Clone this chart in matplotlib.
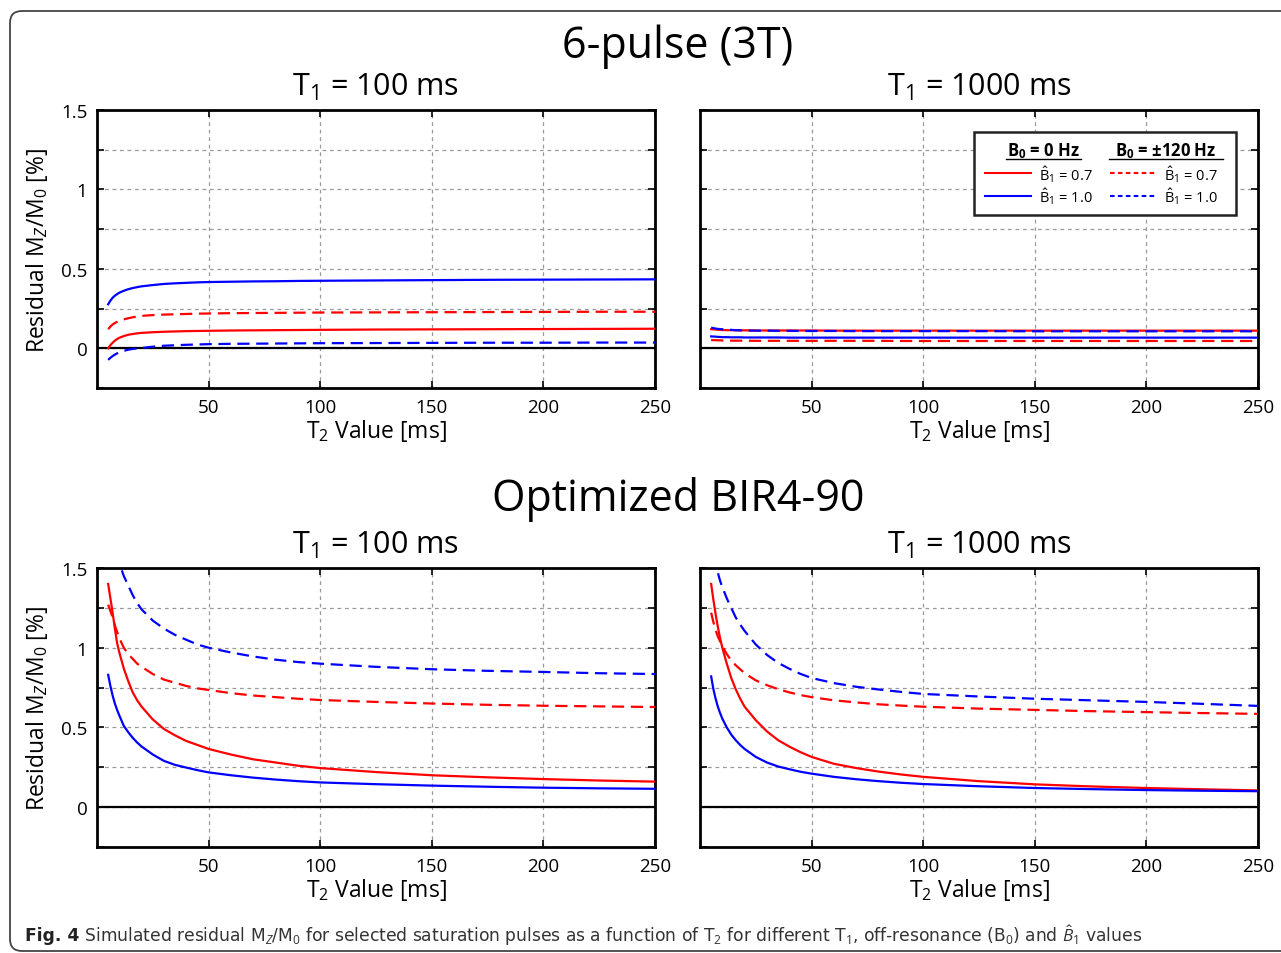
import numpy as np
import matplotlib
matplotlib.use("Agg")
import matplotlib.pyplot as plt
from matplotlib.patches import FancyBboxPatch, Rectangle
from matplotlib.lines import Line2D
from matplotlib.ticker import FixedLocator, FixedFormatter
from matplotlib.transforms import IdentityTransform

plt.rcParams['font.family'] = ['Open Sans', 'DejaVu Sans']
plt.rcParams['mathtext.fontset'] = 'custom'
plt.rcParams['mathtext.rm'] = 'Open Sans'
plt.rcParams['mathtext.it'] = 'Open Sans:italic'
plt.rcParams['mathtext.bf'] = 'Open Sans:bold'

# T2 sample points [ms]
t2 = [5, 6, 7, 8, 9, 10, 12, 14, 16, 18, 20, 25, 30, 35, 40, 45, 50,
      60, 70, 80, 90, 100, 125, 150, 175, 200, 225, 250]

# 6-pulse (3T), T1 = 100 ms
p6_t100_b07_on = [0.000, 0.020, 0.035, 0.048, 0.058, 0.066, 0.077, 0.085, 0.090, 0.094, 0.097,
                  0.101, 0.104, 0.106, 0.108, 0.109, 0.110, 0.112, 0.113, 0.114, 0.115, 0.116,
                  0.118, 0.119, 0.120, 0.121, 0.122, 0.123]
p6_t100_b10_on = [0.277, 0.300, 0.318, 0.331, 0.341, 0.350, 0.362, 0.372, 0.379, 0.385, 0.390,
                  0.398, 0.405, 0.409, 0.412, 0.415, 0.417, 0.419, 0.421, 0.422, 0.424, 0.425,
                  0.427, 0.429, 0.431, 0.432, 0.433, 0.434]
p6_t100_b07_off = [0.120, 0.137, 0.150, 0.159, 0.167, 0.173, 0.182, 0.189, 0.195, 0.200, 0.204,
                   0.209, 0.212, 0.214, 0.216, 0.218, 0.219, 0.221, 0.222, 0.223, 0.224, 0.225,
                   0.226, 0.227, 0.228, 0.229, 0.230, 0.230]
p6_t100_b10_off = [-0.073, -0.060, -0.049, -0.040, -0.032, -0.025, -0.016, -0.009, -0.004, -0.001,
                   0.002, 0.010, 0.016, 0.019, 0.022, 0.024, 0.026, 0.028, 0.029, 0.030, 0.031,
                   0.032, 0.033, 0.034, 0.035, 0.035, 0.036, 0.036]

# 6-pulse (3T), T1 = 1000 ms
p6_t1000_b07_on = [0.120, 0.119, 0.118, 0.117, 0.116, 0.115, 0.114, 0.114, 0.113, 0.113, 0.113,
                   0.112, 0.112, 0.112, 0.112, 0.112, 0.112, 0.111, 0.111, 0.111, 0.111, 0.111,
                   0.111, 0.111, 0.111, 0.111, 0.111, 0.111]
p6_t1000_b10_on = [0.075, 0.074, 0.073, 0.072, 0.071, 0.070, 0.070, 0.069, 0.069, 0.069, 0.068,
                   0.068, 0.068, 0.068, 0.067, 0.067, 0.067, 0.067, 0.067, 0.067, 0.067, 0.067,
                   0.067, 0.067, 0.067, 0.067, 0.067, 0.067]
p6_t1000_b07_off = [0.052, 0.051, 0.051, 0.050, 0.050, 0.049, 0.049, 0.048, 0.048, 0.048, 0.048,
                    0.047, 0.047, 0.047, 0.047, 0.047, 0.047, 0.047, 0.047, 0.047, 0.046, 0.046,
                    0.046, 0.046, 0.046, 0.046, 0.046, 0.046]
p6_t1000_b10_off = [0.130, 0.127, 0.124, 0.122, 0.121, 0.120, 0.118, 0.116, 0.114, 0.113, 0.112,
                    0.111, 0.111, 0.110, 0.110, 0.109, 0.109, 0.109, 0.108, 0.108, 0.108, 0.108,
                    0.108, 0.107, 0.107, 0.107, 0.107, 0.107]

# Optimized BIR4-90, T1 = 100 ms
bir_t100_b07_on = [1.40, 1.31, 1.22, 1.12, 1.03, 0.97, 0.87, 0.79, 0.72, 0.67, 0.63,
                   0.55, 0.49, 0.45, 0.415, 0.39, 0.365, 0.33, 0.30, 0.28, 0.26, 0.245,
                   0.22, 0.20, 0.187, 0.176, 0.167, 0.160]
bir_t100_b10_on = [0.83, 0.76, 0.70, 0.65, 0.61, 0.575, 0.51, 0.47, 0.435, 0.405, 0.38,
                   0.33, 0.29, 0.265, 0.248, 0.232, 0.218, 0.20, 0.185, 0.173, 0.163, 0.155,
                   0.144, 0.135, 0.128, 0.122, 0.118, 0.115]
bir_t100_b07_off = [1.27, 1.23, 1.19, 1.14, 1.10, 1.06, 1.00, 0.96, 0.93, 0.90, 0.88,
                    0.835, 0.80, 0.78, 0.76, 0.745, 0.735, 0.715, 0.70, 0.69, 0.68, 0.672,
                    0.66, 0.65, 0.642, 0.636, 0.632, 0.628]
bir_t100_b10_off = [1.95, 1.83, 1.73, 1.65, 1.58, 1.53, 1.45, 1.39, 1.33, 1.28, 1.24,
                    1.17, 1.12, 1.08, 1.05, 1.02, 1.00, 0.97, 0.945, 0.925, 0.91, 0.90,
                    0.88, 0.865, 0.855, 0.848, 0.84, 0.835]

# Optimized BIR4-90, T1 = 1000 ms
bir_t1000_b07_on = [1.40, 1.30, 1.21, 1.13, 1.06, 1.00, 0.90, 0.81, 0.74, 0.68, 0.63,
                    0.545, 0.475, 0.42, 0.38, 0.345, 0.315, 0.272, 0.245, 0.223, 0.205, 0.19,
                    0.163, 0.143, 0.13, 0.12, 0.112, 0.105]
bir_t1000_b10_on = [0.82, 0.74, 0.68, 0.63, 0.59, 0.555, 0.50, 0.455, 0.42, 0.39, 0.365,
                    0.315, 0.28, 0.255, 0.238, 0.222, 0.21, 0.19, 0.175, 0.163, 0.153, 0.145,
                    0.131, 0.12, 0.113, 0.107, 0.103, 0.10]
bir_t1000_b07_off = [1.22, 1.16, 1.11, 1.07, 1.04, 1.01, 0.96, 0.92, 0.89, 0.865, 0.84,
                     0.795, 0.765, 0.74, 0.72, 0.703, 0.69, 0.67, 0.657, 0.645, 0.637, 0.63,
                     0.618, 0.61, 0.602, 0.596, 0.59, 0.585]
bir_t1000_b10_off = [1.70, 1.61, 1.54, 1.47, 1.42, 1.38, 1.31, 1.25, 1.19, 1.145, 1.105,
                     1.02, 0.955, 0.905, 0.868, 0.836, 0.81, 0.778, 0.755, 0.738, 0.723, 0.71,
                     0.694, 0.68, 0.67, 0.66, 0.648, 0.635]

panels = [
    ("T$_1$ = 100 ms", p6_t100_b07_on, p6_t100_b10_on, p6_t100_b07_off, p6_t100_b10_off),
    ("T$_1$ = 1000 ms", p6_t1000_b07_on, p6_t1000_b10_on, p6_t1000_b07_off, p6_t1000_b10_off),
    ("T$_1$ = 100 ms", bir_t100_b07_on, bir_t100_b10_on, bir_t100_b07_off, bir_t100_b10_off),
    ("T$_1$ = 1000 ms", bir_t1000_b07_on, bir_t1000_b10_on, bir_t1000_b07_off, bir_t1000_b10_off),
]

W, H = 1281, 954
fig = plt.figure(figsize=(W / 100, H / 100), dpi=100)


def px_axes(x0, y0, x1, y1):
    return fig.add_axes([x0 / W, 1 - y1 / H, (x1 - x0) / W, (y1 - y0) / H])


boxes = [(97, 111, 655, 389), (700, 111, 1258, 389),
         (97, 569, 655, 848), (700, 569, 1258, 848)]

dash = (0, (5.5, 3.0))
for k, (box, (title, r_on, b_on, r_off, b_off)) in enumerate(zip(boxes, panels)):
    ax = px_axes(*box)
    ax.set_xlim(0, 250)
    ax.set_ylim(-0.25, 1.5)
    ax.axhline(0, color='black', lw=1.6, zorder=1)
    if k == 1:
        # overlapping lines: solid red under blue dashed
        ax.plot(t2, r_on, color='red', lw=1.6, zorder=3)
        ax.plot(t2, b_off, color='blue', lw=1.6, ls=dash, zorder=4)
        ax.plot(t2, b_on, color='blue', lw=1.6, zorder=3)
        ax.plot(t2, r_off, color='red', lw=1.6, ls=dash, zorder=4)
    else:
        ax.plot(t2, r_on, color='red', lw=1.6, zorder=3)
        ax.plot(t2, b_on, color='blue', lw=1.6, zorder=3)
        ax.plot(t2, r_off, color='red', lw=1.6, ls=dash, zorder=3)
        ax.plot(t2, b_off, color='blue', lw=1.6, ls=dash, zorder=3)

    ax.xaxis.set_major_locator(FixedLocator([50, 100, 150, 200, 250]))
    ax.yaxis.set_major_locator(FixedLocator([0, 0.5, 1, 1.5]))
    ax.yaxis.set_minor_locator(FixedLocator([-0.25, 0.25, 0.75, 1.25]))
    if k % 2 == 0:
        ax.yaxis.set_major_formatter(FixedFormatter(['0', '0.5', '1', '1.5']))
        ax.set_ylabel("Residual M$_Z$/M$_0$ [%]", fontsize=16.5, labelpad=8)
    else:
        ax.set_yticklabels([])
    ax.tick_params(which='both', direction='in', top=True, right=True,
                   length=5, width=1.2, labelsize=13.5, pad=7)
    ax.grid(True, which='major', color='#9a9a9a', ls=(0, (3, 3)), lw=0.9)
    ax.grid(True, which='minor', axis='y', color='#9a9a9a', ls=(0, (3, 3)), lw=0.9)
    ax.set_axisbelow(True)
    for s in ax.spines.values():
        s.set_linewidth(2.0)
        s.set_color('black')
    ax.set_xlabel("T$_2$ Value [ms]", fontsize=16.5, labelpad=1)
    ax.set_title(title, fontsize=22, pad=11)

    if k == 1:
        # legend box
        ax.add_patch(Rectangle((0.491, 0.622), 0.47, 0.298, transform=ax.transAxes,
                               facecolor='white', edgecolor='#222222', lw=1.8, zorder=6))
        hdr = dict(transform=ax.transAxes, fontsize=12, fontweight='bold',
                   ha='center', va='center', zorder=7)
        ax.text(0.615, 0.856, "B$_\\mathbf{0}$ = 0 Hz", **hdr)
        ax.text(0.835, 0.856, "B$_\\mathbf{0}$ = \u00b1120 Hz", **hdr)
        ax.add_line(Line2D([0.548, 0.682], [0.824, 0.824], transform=ax.transAxes,
                           color='black', lw=1.0, zorder=7))
        ax.add_line(Line2D([0.733, 0.937], [0.824, 0.824], transform=ax.transAxes,
                           color='black', lw=1.0, zorder=7))
        rows = [(0.772, 'red', "$\\hat{\\mathrm{B}}_1$ = 0.7"),
                (0.692, 'blue', "$\\hat{\\mathrm{B}}_1$ = 1.0")]
        for yy, c, lab in rows:
            ax.add_line(Line2D([0.511, 0.594], [yy, yy], transform=ax.transAxes,
                               color=c, lw=1.5, zorder=7))
            ax.text(0.607, yy, lab, transform=ax.transAxes, fontsize=10.5,
                    va='center', zorder=7)
            ax.add_line(Line2D([0.735, 0.818], [yy, yy], transform=ax.transAxes,
                               color=c, lw=1.5, ls=(0, (2.2, 1.6)), zorder=7))
            ax.text(0.831, yy, lab, transform=ax.transAxes, fontsize=10.5,
                    va='center', zorder=7)

fig.text(678 / W, 1 - 47 / H, "6-pulse (3T)", fontsize=31, ha='center', va='center')
fig.text(678 / W, 1 - 500 / H, "Optimized BIR4-90", fontsize=31, ha='center', va='center')

# caption
cap_font = ['Liberation Sans Narrow', 'DejaVu Sans']
t1 = fig.text(25 / W, 1 - 936 / H, "Fig. 4", fontsize=12.3, fontweight='bold',
              family=cap_font, color='#222222', va='center')
cap_text = (" Simulated residual M$_Z$/M$_0$ for selected saturation pulses as a function "
            "of T$_2$ for different T$_1$, off-resonance (B$_0$) and $\\hat{B}_1$ values")
fig.add_artist(plt.Annotation(cap_text, xy=(1, 0.5), xycoords=t1,
                              fontsize=12.3, family=cap_font, color='#333333',
                              va='center', ha='left'))

# rounded frame around the figure panel
frame = FancyBboxPatch((10, 2), 1300, H - 12 - 2, boxstyle="round,pad=0,rounding_size=12",
                       transform=IdentityTransform(), facecolor='none',
                       edgecolor='#444444', lw=1.3)
fig.add_artist(frame)

fig.savefig("out.png", dpi=100)
